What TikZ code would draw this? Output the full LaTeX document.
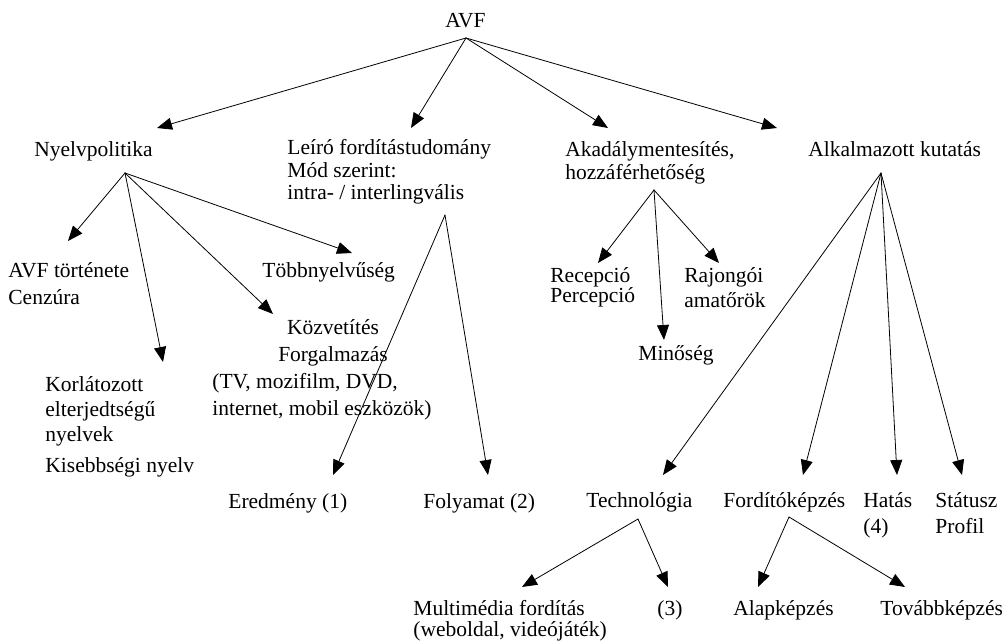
\documentclass[tikz,border=0pt]{standalone}
\usepackage{fontspec}
\setmainfont{Liberation Serif}
\usetikzlibrary{arrows.meta}
\lineskiplimit=-10pt
\begin{document}
\begin{tikzpicture}[x=1pt,y=-1pt,line join=round,line cap=round,>={Triangle[length=15pt,width=12pt]},line width=0.8pt]
	\tikzset{every node/.style={anchor=base west,inner sep=0pt,align=left,font=\fontsize{21.5}{22.5}\selectfont},
		sor/.style={font=\fontsize{21.5}{#1}\selectfont}}
	\useasboundingbox (0,0) rectangle (1002,644);
	% szovegek (tobbsoros node: az utolso sor alapvonala)
	\node (avf) at (445,28) {AVF};
	\node (nyelv) at (34,157) {Nyelvpolitika};
	\node (leiro) at (287,200) {Leíró fordítástudomány\\Mód szerint:\\intra- / interlingvális};
	\node[sor=23] (akad) at (565,180) {Akadálymentesítés,\\hozzáférhetőség};
	\node (alk) at (808,157) {Alkalmazott kutatás};
	\node[sor=27] (avftort) at (8,305) {AVF története\\Cenzúra};
	\node (tobb) at (262,278) {Többnyelvűség};
	\node[sor=27,anchor=base,align=center] (kozv) at (333,362) {Közvetítés\\Forgalmazás};
	\node[sor=26] (kozvmed) at (212,415) {(TV, mozifilm, DVD,\\internet, mobil eszközök)};
	\node[sor=25.5] (korl) at (45,442) {Korlátozott\\elterjedtségű\\nyelvek};
	\node (kis) at (45,472) {Kisebbségi nyelv};
	\node[sor=20] (recep) at (550,303) {Recepció\\Percepció};
	\node[sor=25] (rajong) at (684,308) {Rajongói\\amatőrök};
	\node (minos) at (638,361) {Minőség};
	\node (ered) at (228,508) {Eredmény (1)};
	\node (foly) at (423,508) {Folyamat (2)};
	\node (tech) at (586,507) {Technológia};
	\node (fordk) at (723,507) {Fordítóképzés};
	\node[sor=26] (hatas) at (863,533) {Hatás\\(4)};
	\node[sor=26] (stat) at (935,533) {Státusz\\Profil};
	\node[sor=21] (multi) at (413,636) {Multimédia fordítás\\(weboldal, videójáték)};
	\node (harom) at (657,615) {(3)};
	\node (alap) at (733,615) {Alapképzés};
	\node (tovabb) at (880,615) {Továbbképzés};
	% nyilak kezdo- es vegpontjai
	\coordinate (avf-o) at (466,38);
	\coordinate (nyelv-o) at (125,173);
	\coordinate (leiro-o) at (445,215);
	\coordinate (akad-o) at (654,190);
	\coordinate (alk-o) at (881,173);
	\coordinate (tech-o) at (638,519);
	\coordinate (fordk-o) at (789,517);
	\coordinate (nyelv-i) at (157,128);
	\coordinate (leiro-i) at (411,128);
	\coordinate (akad-i) at (608,128);
	\coordinate (alk-i) at (777,128);
	\coordinate (avftort-i) at (68,241);
	\coordinate (korl-i) at (163,362);
	\coordinate (kozv-i) at (273,314);
	\coordinate (tobb-i) at (352,253);
	\coordinate (ered-i) at (333,475);
	\coordinate (foly-i) at (488,475);
	\coordinate (recep-i) at (598,263);
	\coordinate (minos-i) at (664,340);
	\coordinate (rajong-i) at (719,263);
	\coordinate (tech-i) at (663,475);
	\coordinate (fordk-i) at (803,475);
	\coordinate (hatas-i) at (897,475);
	\coordinate (stat-i) at (962,475);
	\coordinate (multi-i) at (522,587);
	\coordinate (harom-i) at (668,587);
	\coordinate (alap-i) at (758,587);
	\coordinate (tovabb-i) at (905,587);
	% nyilak
	\foreach \a/\b in {avf/nyelv,avf/leiro,avf/akad,avf/alk,
		nyelv/avftort,nyelv/korl,nyelv/kozv,nyelv/tobb,
		leiro/ered,leiro/foly,
		akad/recep,akad/minos,akad/rajong,
		alk/tech,alk/fordk,alk/hatas,alk/stat,
		tech/multi,tech/harom,fordk/alap,fordk/tovabb}
	\draw[->] (\a-o)--(\b-i);
\end{tikzpicture}
\end{document}
